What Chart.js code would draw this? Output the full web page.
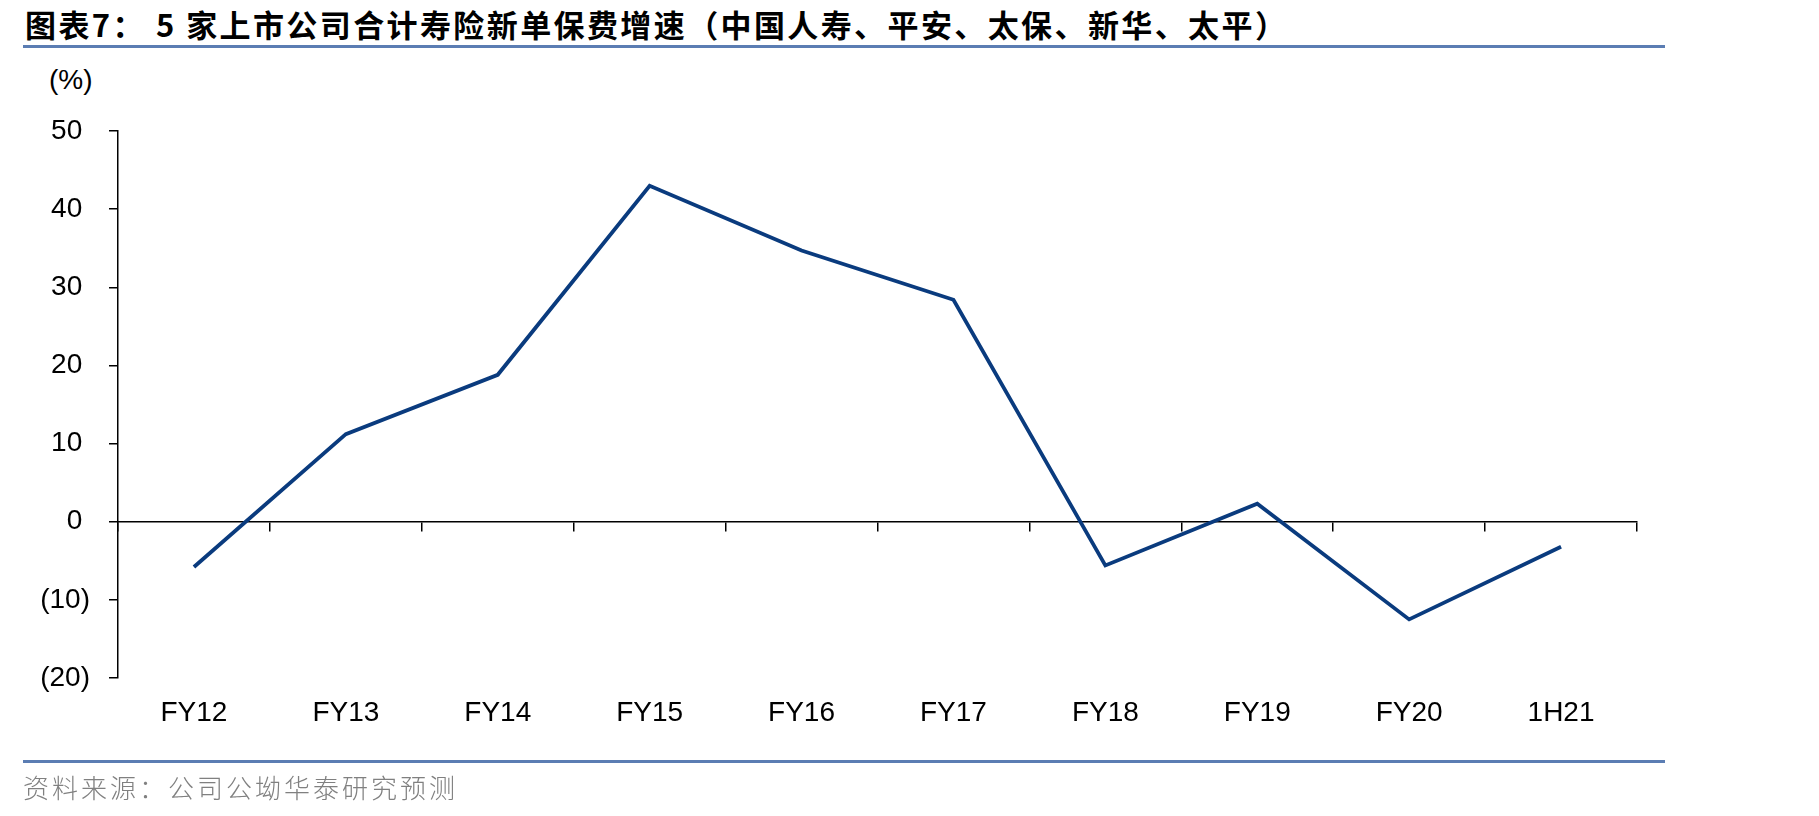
<!DOCTYPE html>
<html>
<head>
<meta charset="utf-8">
<script src="https://cdn.jsdelivr.net/npm/chart.js@4/dist/chart.umd.min.js"></script>
<style>
  html, body { margin: 0; padding: 0; background: #fff; }
  body { width: 1819px; height: 816px; position: relative; overflow: hidden; }
  #canvasBox { position: absolute; left: 0; top: 0; width: 1819px; height: 816px; }
  .title { position: absolute; top: 5px; font-family: "Noto Sans CJK SC", sans-serif; font-weight: 700; font-size: 31px; line-height: 38px; letter-spacing: 2.4px; color: #000; white-space: nowrap; }
  .rule { position: absolute; left: 23px; width: 1642px; height: 3px; background: #5b7db3; }
  .unit { position: absolute; left: 49px; top: 63px; font-family: "Liberation Sans", Arial, sans-serif; font-size: 28px; line-height: 34px; color: #000; }
  .source { position: absolute; left: 23px; top: 770px; font-family: "Noto Sans CJK SC", sans-serif; font-weight: 300; font-size: 26px; line-height: 34px; letter-spacing: 3px; color: #808080; white-space: nowrap; }
</style>
</head>
<body>
<div class="title" style="left:25px">图表7：</div>
<div class="title" style="left:156px">5 家上市公司合计寿险新单保费增速（中国人寿、平安、太保、新华、太平）</div>
<div class="rule" style="top:45px"></div>
<div class="unit">(%)</div>
<div id="canvasBox"><canvas id="lineChart"></canvas></div>
<div class="rule" style="top:760px"></div>
<div class="source">资料来源：公司公坳华泰研究预测</div>
<script>
const categories = ['FY12', 'FY13', 'FY14', 'FY15', 'FY16', 'FY17', 'FY18', 'FY19', 'FY20', '1H21'];
const growthValues = [-5.8, 11.2, 18.8, 43.0, 34.7, 28.4, -5.6, 2.3, -12.5, -3.2];
const yTicks = [-20, -10, 0, 10, 20, 30, 40, 50];

const axisFont = { family: '"Liberation Sans", Arial, sans-serif', size: 28 };

function formatTick(v) {
  // accounting style: negatives in brackets, positives keep room for ")"
  return v < 0 ? `(${-v})` : `${v} `;
}

const ctx = document.getElementById('lineChart').getContext('2d');

new Chart(ctx, {
  type: 'line',
  data: {
    labels: categories,
    datasets: [{
      data: growthValues,
      borderColor: '#0a3b7e',
      borderWidth: 3.8,
      pointRadius: 0,
      tension: 0,
      fill: false,
    }]
  },
  options: {
    responsive: true,
    maintainAspectRatio: false,
    animation: false,
    layout: {
      padding: { top: 131, right: 182, bottom: 0, left: 0 }
    },
    plugins: {
      legend: { display: false },
      tooltip: { enabled: false }
    },
    scales: {
      x: {
        type: 'category',
        position: { y: 0 },
        offset: true,
        border: { display: true, color: '#000', width: 1.5 },
        grid: { drawOnChartArea: false, drawTicks: true, tickLength: 9, color: '#000', lineWidth: 1.5, offset: true },
        ticks: { display: false },
      },
      xLabels: {
        type: 'category',
        axis: 'x',
        position: 'bottom',
        labels: categories,
        offset: true,
        border: { display: false },
        grid: { display: false, drawTicks: false },
        ticks: { color: '#000', font: axisFont, padding: 18, maxRotation: 0, autoSkip: false },
        afterFit: (scale) => { scale.height = 138; },
      },
      y: {
        min: -20,
        max: 50,
        afterBuildTicks: (scale) => { scale.ticks = yTicks.map(v => ({ value: v })); },
        border: { display: true, color: '#000', width: 1.5 },
        grid: { drawOnChartArea: false, drawTicks: true, tickLength: 9, color: '#000', lineWidth: 1.5 },
        ticks: { color: '#000', font: axisFont, padding: 19, callback: formatTick },
        afterFit: (scale) => { scale.width = 118; },
      }
    }
  }
});
</script>
</body>
</html>
